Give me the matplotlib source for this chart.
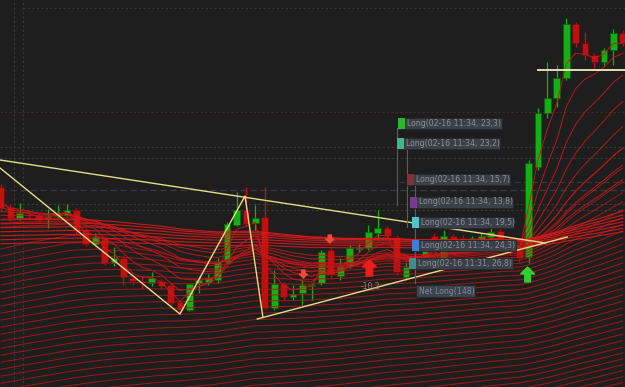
import numpy as np
import matplotlib
matplotlib.use("Agg")
import matplotlib.pyplot as plt
from matplotlib.patches import Rectangle, FancyArrow

# candles, price units (one per bar, left to right)
opens = [213, 193, 182, 185, 185, 181, 184, 185, 190, 170, 156, 162, 137, 142, 122, 119, 117, 119, 115, 98,
         90, 117, 118, 120, 138, 175, 190, 177, 183, 92, 116, 103, 107, 114, 117, 150, 124, 134, 151, 152,
         167, 172, 163, 123, 145, 142, 164, 142, 164, 162, 156, 160, 163, 169, 160, 150, 143, 233, 287, 302,
         322, 376, 357, 345, 338, 350, 367]
highs = [216, 196, 197, 188, 187, 191, 195, 196, 192, 172, 167, 164, 153, 144, 125, 123, 128, 121, 117, 100,
         117, 124, 126, 142, 178, 208, 213, 195, 213, 130, 118, 115, 120, 117, 150, 152, 142, 155, 156, 175,
         190, 174, 165, 138, 150, 154, 167, 170, 166, 165, 164, 167, 172, 171, 162, 152, 240, 292, 338, 335,
         382, 378, 368, 347, 352, 371, 370]
lows = [188, 179, 180, 181, 178, 172, 182, 184, 165, 154, 154, 135, 134, 115, 115, 111, 114, 111, 95, 87,
        89, 107, 115, 117, 137, 174, 174, 170, 91, 90, 100, 100, 95, 100, 115, 122, 120, 132, 148, 150,
        160, 162, 125, 120, 135, 140, 158, 140, 157, 152, 152, 157, 155, 158, 145, 138, 137, 230, 282, 293,
        320, 353, 340, 332, 335, 335, 354]
closes = [192, 182, 187, 184, 180, 183, 187, 190, 169, 156, 163, 137, 142, 123, 119, 118, 122, 114, 97, 90,
          116, 120, 122, 138, 176, 190, 176, 182, 92, 116, 103, 106, 115, 115, 148, 125, 134, 152, 152, 168,
          172, 164, 128, 133, 138, 150, 160, 164, 160, 156, 162, 164, 168, 160, 148, 142, 237, 287, 302, 322,
          376, 357, 345, 338, 350, 367, 357]

# moving-average ribbon: level at the left edge and span of each line
fast_start = [205, 198, 192, 188, 184, 180, 176, 172]
fast_span = [3, 6, 10, 15, 21, 28, 36, 46]
band_start = [180, 176, 172, 168, 164, 160, 156]
band_span = [120, 140, 160, 180, 200, 220, 240]
slow_start = [148, 141, 134, 127, 120, 113, 106, 99, 92, 85, 78, 71, 64, 57, 50,
              43, 36, 29, 22, 15, 8, 1, -6, -13, -20, -27, -34,
              -41, -48, -55, -62, -69, -76, -83, -90]
slow_span = [28, 37, 46, 55, 64, 73, 82, 91, 100, 110, 119, 128, 137, 146, 155,
             164, 173, 182, 191, 200, 210, 219, 228, 237, 246, 255, 264,
             270, 276, 282, 288, 294, 300, 306, 312]

# hand-drawn lines (bar index, price)
upper_trend_x = [-0.1, 57.8]
upper_trend_y = [240, 157]
zigzag_x = [-0.1, 19.0, 25.9, 27.8]
zigzag_y = [232, 86, 204, 83]
lower_trend_x = [27.2, 60.1]
lower_trend_y = [81, 163]
level_x = [57.0, 66.3]
level_y = [330, 330]

# order tags
tag_text = ["Long(02-16 11:34, 23,3)", "Long(02-16 11:34, 23,2)", "Long(02-16 11:34, 15,7)",
            "Long(02-16 11:34, 13,8)", "Long(02-16 11:34, 19,5)", "Long(02-16 11:34, 24,3)",
            "Long(02-16 11:31, 26,8)"]
tag_color = ["#2fb52f", "#3cb88a", "#7d3434", "#7b3a8e", "#4fc3cc", "#3d80d0", "#3f8c92"]
tag_left = [42.14, 42.04, 43.10, 43.42, 43.63, 43.63, 43.31]
tag_right = [53.18, 52.97, 54.03, 54.35, 54.46, 54.67, 54.35]
tag_price = [277, 256.5, 221, 198, 177.5, 155, 136.5]


def ema_from(seed, span, values):
    a = 2.0 / (span + 1)
    out = []
    level = seed
    for v in values:
        level = level + a * (v - level)
        out.append(level)
    return out


bg = "#1e1e1e"
fig = plt.figure(figsize=(6.25, 3.87), dpi=100, facecolor=bg)
ax = fig.add_axes([0, 0, 1, 1])
ax.set_facecolor(bg)
ax.set_xlim(-0.106, 66.24)
ax.set_ylim(13, 400)
ax.axis("off")

# grid / level lines
for p in [253, 242, 196, 190]:
    ax.axhline(p, color="#3a3a3a", lw=0.8, ls=(0, (2, 2)), zorder=0)
ax.plot([2.34, 66.3], [392, 392], color="#363636", lw=0.8, ls=(0, (2, 2)), zorder=0)
ax.axhline(288, color="#4a2626", lw=0.8, ls=(0, (2, 2)), zorder=0)
ax.axhline(210, color="#393c48", lw=0.9, ls=(0, (5, 3)), zorder=0)
ax.plot([42.3, 66.3], [218, 218], color="#3a3a3a", lw=0.8, ls=(0, (5, 3)), zorder=0)
for xv in [1.38, 2.34]:
    ax.axvline(xv, color="#383838", lw=0.8, ls=(0, (2, 2)), zorder=0)

# candles
idx = np.arange(len(closes))
green, red = "#12b012", "#c01010"
for i in idx:
    up = closes[i] >= opens[i]
    c = green if up else red
    ax.vlines(i, lows[i], highs[i], color=c, lw=0.9, zorder=2)
    lo, hi = min(opens[i], closes[i]), max(opens[i], closes[i])
    ax.bar(i, max(hi - lo, 1.2), bottom=lo, width=0.72, color=c,
           edgecolor="#0a5a0a" if up else "#6a0808", lw=0.4, zorder=3)

# ribbon
for s, sp in zip(slow_start, slow_span):
    ax.plot(idx, ema_from(s, sp, closes), color="#b01717", lw=0.7, alpha=0.9, zorder=4)
for s, sp in zip(band_start, band_span):
    ax.plot(idx, ema_from(s, sp, closes), color="#dc1a1a", lw=0.8, alpha=0.9, zorder=4)
for s, sp in zip(fast_start, fast_span):
    ax.plot(idx, ema_from(s, sp, closes), color="#c81818", lw=0.7, alpha=0.9, zorder=4)

# trend lines
yel = "#e6dc86"
ax.plot(upper_trend_x, upper_trend_y, color=yel, lw=1.0, zorder=5)
ax.plot(zigzag_x, zigzag_y, color=yel, lw=1.0, zorder=5)
ax.plot(lower_trend_x, lower_trend_y, color=yel, lw=1.0, zorder=5)
ax.plot(level_x, level_y, color="#f4eebc", lw=1.3, zorder=5)

# signal arrows
for xa, ya in [(34.9, 165), (32.1, 130)]:
    ax.add_patch(FancyArrow(xa, ya, 0, -8, width=0.35, head_width=0.9, head_length=4,
                            length_includes_head=True, color="#f04a3a", zorder=6))
ax.add_patch(FancyArrow(39.1, 124, 0, 16, width=0.7, head_width=1.5, head_length=7,
                        length_includes_head=True, color="#f01c1c", zorder=6))
ax.text(39.2, 118, "-10,2", color="#8a8a8a", fontsize=5.5, ha="center", va="top", zorder=6)
ax.add_patch(FancyArrow(55.9, 118, 0, 15, width=0.6, head_width=1.5, head_length=7,
                        length_includes_head=True, color="#2bd02b", zorder=6))

# connectors for the tags
for xv, y0, y1 in [(42.04, 272, 195), (43.10, 251, 173), (43.95, 214, 117)]:
    ax.plot([xv, xv], [y0, y1], color="#5c5c5c", lw=0.8, zorder=6)

# tags
for t, c, l, r, p in zip(tag_text, tag_color, tag_left, tag_right, tag_price):
    ax.add_patch(Rectangle((l, p - 5.5), r - l, 11, facecolor="#3b3f48",
                           edgecolor="#25272b", lw=0.6, zorder=7))
    ax.add_patch(Rectangle((l, p - 5.5), 0.74, 11, facecolor=c, lw=0, zorder=8))
    ax.text(l + 0.95, p, t, color="#8a8f98", fontsize=5.6, va="center", ha="left", zorder=9)
ax.add_patch(Rectangle((44.06, 103), 6.26, 12, facecolor="#3c4350",
                       edgecolor="#25272b", lw=0.6, zorder=7))
ax.text(44.35, 109, "Net Long(148)", color="#7e8898", fontsize=5.6, va="center", ha="left", zorder=9)

fig.savefig("out.png", dpi=100, facecolor=bg)
